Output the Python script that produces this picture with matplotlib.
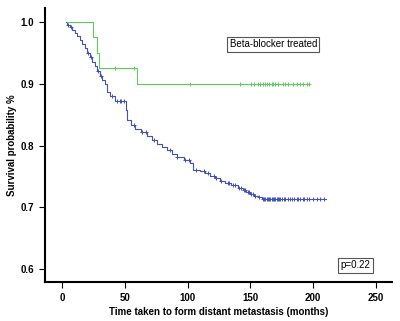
import matplotlib
matplotlib.use("Agg")
import matplotlib.pyplot as plt
import numpy as np

plt.rcParams['font.family'] = ['Liberation Sans', 'DejaVu Sans']

# all patients (blue): step times and survival after each drop
blue_t = [3, 4, 6, 8, 10, 12, 14, 16, 18, 20, 22, 24, 26, 28, 30, 32, 34, 36, 38, 42,
          51, 52, 55, 58, 63, 68, 72, 76, 80, 84, 88, 92, 97, 102, 104, 110, 114, 118,
          122, 126, 130, 135, 140, 144, 147, 150, 153, 156, 159]
blue_s = [1.0, 0.996, 0.992, 0.987, 0.983, 0.977, 0.971, 0.965, 0.958, 0.950, 0.943,
          0.935, 0.928, 0.920, 0.913, 0.906, 0.899, 0.886, 0.880, 0.872, 0.858, 0.842,
          0.834, 0.826, 0.822, 0.816, 0.809, 0.803, 0.797, 0.792, 0.787, 0.782, 0.777,
          0.771, 0.761, 0.758, 0.755, 0.751, 0.747, 0.743, 0.739, 0.736, 0.732, 0.728,
          0.725, 0.722, 0.719, 0.716, 0.713]
blue_end = 210
blue_cens = [5, 7, 21, 23, 29, 31, 40, 44, 46, 47, 49, 57, 64, 67, 73, 86, 92, 98, 101,
             107, 113, 116, 121, 123, 127, 132, 133, 136, 138, 141, 143, 145, 146, 148,
             149, 151, 152, 154, 157, 160, 161, 162, 163, 164, 165, 166, 167, 168, 169,
             170, 171, 172, 173, 174, 175, 177, 178, 180, 182, 183, 185, 187, 188, 190,
             192, 193, 195, 197, 200, 203, 206, 209]

# beta-blocker treated (green)
green_t = [3.7, 24.5, 27.7, 29.5, 59.6]
green_s = [1.0, 0.975, 0.95, 0.925, 0.90]
green_end = 197
green_cens = [42, 57, 101.6, 141.5, 151, 153, 156, 158, 160, 162, 163, 165, 167, 168,
              170, 172, 176, 178, 180, 184, 187, 190, 192, 195, 197]

xticks = [0, 50, 100, 150, 200, 250]
yticks = [0.6, 0.7, 0.8, 0.9, 1.0]

BLUE = '#4152b8'
GREEN = '#5ccc5c'


def surv_at(times, surv, t):
    idx = np.searchsorted(times, t, side='right') - 1
    return surv[max(idx, 0)]


fig = plt.figure(figsize=(4, 3.21), dpi=100)
ax = fig.add_axes([0.1125, 0.1215, 0.8675, 0.8535])

for times, surv, end, cens, col in [(blue_t, blue_s, blue_end, blue_cens, BLUE),
                                     (green_t, green_s, green_end, green_cens, GREEN)]:
    ax.step(list(times) + [end], list(surv) + [surv[-1]], where='post', color=col, lw=0.8)
    cy = [surv_at(times, surv, c) for c in cens]
    ax.plot(cens, cy, ls='none', marker='+', ms=3.5, mew=0.7, color=col)

ax.set_xlim(-13.6, 263)
ax.set_ylim(0.579, 1.0227)
ax.set_xticks(xticks)
ax.set_xticklabels([str(v) for v in xticks])
ax.set_yticks(yticks)
ax.set_yticklabels(['%.1f' % v for v in yticks])
for s in ['top', 'right']:
    ax.spines[s].set_visible(False)
for s in ['left', 'bottom']:
    ax.spines[s].set_linewidth(1.5)
ax.tick_params(direction='out', length=4, width=0.8, labelsize=7, pad=4)
for lab in ax.get_xticklabels() + ax.get_yticklabels():
    lab.set_fontweight('bold')

ax.set_xlabel('Time taken to form distant metastasis (months)', fontsize=7, fontweight='bold', labelpad=3)
ax.set_ylabel('Survival probability %', fontsize=7, fontweight='bold', labelpad=2)

box = dict(boxstyle='square,pad=0.25', fc='white', ec='#555555', lw=0.8)
ax.text(133.5, 0.964, 'Beta-blocker treated', fontsize=7, va='center', ha='left', bbox=box)
ax.text(222, 0.606, 'p=0.22', fontsize=7, va='center', ha='left', bbox=box)

fig.savefig('out.png', dpi=100)
